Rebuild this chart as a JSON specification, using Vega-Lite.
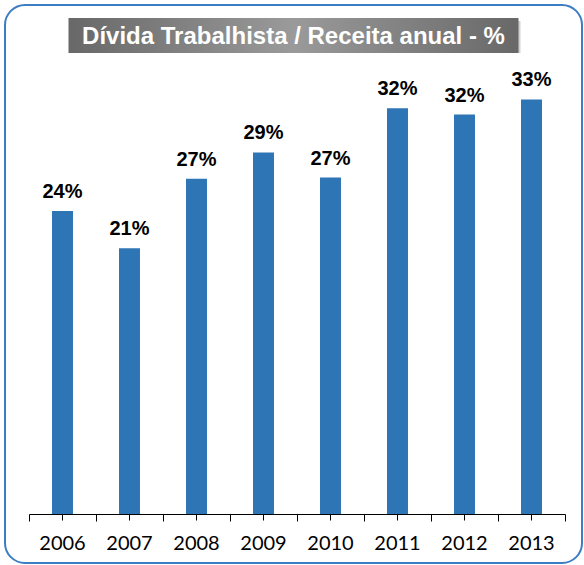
{
  "$schema": "https://vega.github.io/schema/vega-lite/v6.json",
  "width": 577,
  "height": 558,
  "autosize": "none",
  "padding": {"left": 5, "top": 5, "right": 2, "bottom": 2},
  "background": "white",
  "config": {
    "view": {"stroke": "#3C7DC4", "strokeWidth": 2, "cornerRadius": 20}
  },
  "datasets": {
    "bars": [
      {"year": "2006", "value": 24.05, "label": "24%"},
      {"year": "2007", "value": 21.1, "label": "21%"},
      {"year": "2008", "value": 26.6, "label": "27%"},
      {"year": "2009", "value": 28.7, "label": "29%"},
      {"year": "2010", "value": 26.7, "label": "27%"},
      {"year": "2011", "value": 32.2, "label": "32%"},
      {"year": "2012", "value": 31.7, "label": "32%"},
      {"year": "2013", "value": 32.9, "label": "33%"}
    ],
    "title": [
      {"text": "Dívida Trabalhista / Receita anual - %"}
    ]
  },
  "resolve": {"axis": {"x": "independent"}},
  "layer": [
    {
      "data": {"name": "title"},
      "mark": {"type": "bar", "width": 450, "color": "#000000", "opacity": 0.18, "xOffset": 2, "yOffset": 3},
      "encoding": {
        "y": {"datum": 39.37, "type": "quantitative", "axis": null},
        "y2": {"datum": 36.59}
      }
    },
    {
      "data": {"name": "title"},
      "mark": {
        "type": "bar",
        "width": 450,
        "color": {
          "gradient": "linear", "x1": 0, "x2": 1, "y1": 0, "y2": 0,
          "stops": [
            {"offset": 0, "color": "#686868"},
            {"offset": 0.5, "color": "#9a9a9a"},
            {"offset": 1, "color": "#686868"}
          ]
        }
      },
      "encoding": {
        "y": {"datum": 39.37, "type": "quantitative", "axis": null},
        "y2": {"datum": 36.59}
      }
    },
    {
      "data": {"name": "title"},
      "mark": {"type": "text", "font": "Liberation Sans", "fontSize": 24, "fontWeight": "bold", "color": "white", "baseline": "alphabetic", "align": "center"},
      "encoding": {
        "y": {"datum": 37.3, "type": "quantitative", "axis": null},
        "text": {"field": "text", "type": "nominal"}
      }
    },
    {
      "data": {"name": "bars"},
      "mark": {"type": "bar", "color": "#2E75B6", "width": {"band": 0.313}},
      "encoding": {
        "x": {
          "field": "year", "type": "ordinal",
          "scale": {"paddingInner": 0, "paddingOuter": 0, "range": [24, 560]},
          "axis": {
            "orient": "bottom", "title": null, "offset": -49, "tickBand": "center", "domain": true,
            "domainColor": "#000000", "domainWidth": 1, "tickColor": "#000000",
            "tickSize": 6, "tickWidth": 1, "labelAngle": 0, "labelFont": "Lato",
            "labelFontSize": 20, "labelColor": "#000000", "labelPadding": 13, "grid": false
          }
        },
        "y": {
          "field": "value", "type": "quantitative",
          "scale": {"domain": [0, 40], "range": [509, 5], "nice": false, "zero": true},
          "axis": null
        }
      }
    },
    {
      "data": {"name": "bars"},
      "mark": {"type": "text", "font": "Liberation Sans", "fontSize": 20, "fontWeight": "bold", "color": "#000000", "baseline": "alphabetic", "dy": -13},
      "encoding": {
        "x": {
          "field": "year", "type": "ordinal",
          "axis": {
            "orient": "bottom", "title": null, "offset": -49, "tickBand": "extent", "domain": false,
            "labels": false, "tickColor": "#000000", "tickSize": 7, "tickWidth": 1, "grid": false
          }
        },
        "y": {"field": "value", "type": "quantitative", "axis": null},
        "text": {"field": "label", "type": "nominal"}
      }
    }
  ]
}
